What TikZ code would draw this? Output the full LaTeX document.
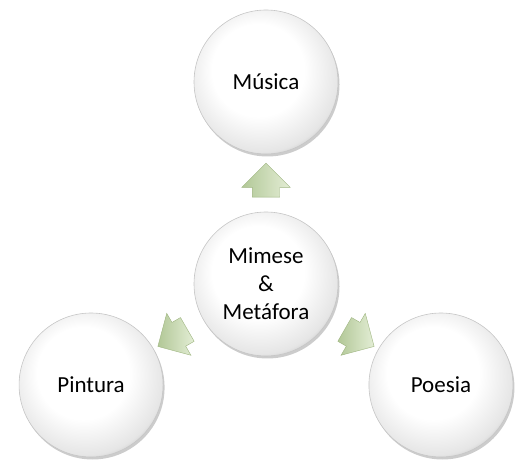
\documentclass[tikz,border=0pt]{standalone}
\usepackage{fontspec}
\setmainfont{Carlito}
\usepackage{tikz}
\usetikzlibrary{shapes.arrows, shadows, calc}
\definecolor{leaf-light}{HTML}{E3EDD5}
\definecolor{leaf-dark}{HTML}{B2C897}
\definecolor{leaf-edge}{HTML}{9DB47F}
\pgfdeclareradialshading{bubbleshade}{\pgfpoint{-4bp}{6bp}}{color(0bp)=(white); color(16bp)=(white); color(27bp)=(gray!20); color(31bp)=(gray!55); color(50bp)=(gray!55)}

\begin{document}
\begin{tikzpicture}[x=1pt, y=1pt,
    bubble/.style={circle, minimum size=144pt, inner sep=0pt, shading=bubbleshade, draw=gray!45, line width=0.6pt, align=center, font=\fontsize{23}{28}\selectfont,
        drop shadow={shadow xshift=1.5pt, shadow yshift=-2.5pt, opacity=0.2, fill=black}},
    leaf/.style={single arrow, draw=leaf-edge, line width=0.4pt, left color=leaf-dark, right color=leaf-light, inner xsep=0pt, inner ysep=13.5pt, minimum height=34pt, single arrow head extend=10.5pt}
]
\useasboundingbox (0,0) rectangle (518,462);

% Centre
\node[bubble] (mimese) at (266,178) {Mimese\\\&\\Metáfora};

% Satellites
\node[bubble] (musica) at ($(mimese)+(90:202pt)$) {Música};
\node[bubble] (pintura) at ($(mimese)+(210:202pt)$) {Pintura};
\node[bubble] (poesia) at ($(mimese)+(330:202pt)$) {Poesia};

% Arrows
\node[leaf, rotate=90] (toMusica) at ($(mimese)!0.48!(musica)$) {};
\node[leaf, rotate=210] (toPintura) at ($(mimese)!0.5!(pintura)$) {};
\node[leaf, rotate=330] (toPoesia) at ($(mimese)!0.5!(poesia)$) {};

\end{tikzpicture}
\end{document}
